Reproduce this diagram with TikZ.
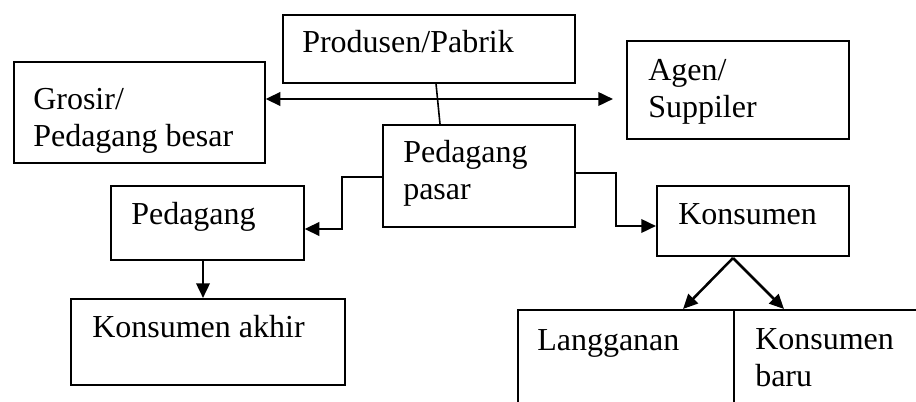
\documentclass[tikz,border=0pt]{standalone}
\usepackage{fontspec}
\setmainfont{Liberation Serif}
\usetikzlibrary{arrows.meta,calc}
\begin{document}
\begin{tikzpicture}[x=0.75pt,y=-0.75pt,
  box/.style={draw=black,line width=1.2pt,rectangle,inner sep=0pt,anchor=north west},
  txt/.style={inner sep=0pt,anchor=base west,align=left,font=\fontsize{24}{27.75}\selectfont},
  tip/.style={Triangle[length=11pt,width=10pt]},
  conn/.style={line width=1.9pt,-{Triangle[length=11pt,width=10pt]}},
  plain/.style={line width=1.9pt}]
\useasboundingbox (0,0) rectangle (916,402);
\clip (0,0) rectangle (916,402);
% boxes
\node[box,minimum width=219pt,minimum height=51pt] (prod) at (282,14) {};
\node[box,minimum width=188.25pt,minimum height=75.75pt] (grosir) at (13,61) {};
\node[box,minimum width=166.5pt,minimum height=73.5pt] (agen) at (626,40) {};
\node[box,minimum width=144pt,minimum height=76.5pt] (pasar) at (382,124) {};
\node[box,minimum width=144.75pt,minimum height=55.5pt] (ped) at (110,185) {};
\node[box,minimum width=205.5pt,minimum height=64.5pt] (akhir) at (70,298) {};
\node[box,minimum width=144pt,minimum height=52.5pt] (kons) at (656,185) {};
\node[box,minimum width=162pt,minimum height=90pt] (lang) at (517,309) {};
\node[box,minimum width=180pt,minimum height=90pt] (baru) at (733,309) {};
% texts (multi-line nodes: base = last line)
\node[txt] (tprod) at (302,53) {Produsen/Pabrik};
\node[txt] (tgrosir) at (33,147) {Grosir/\\Pedagang besar};
\node[txt] (tagen) at (648,118) {Agen/\\Suppiler};
\node[txt] (tpasar) at (403,200) {Pedagang\\pasar};
\node[txt] (tped) at (131,225) {Pedagang};
\node[txt] (takhir) at (92,337) {Konsumen akhir};
\node[txt] (tkons) at (678,225) {Konsumen};
\node[txt] (tlang) at (537,350) {Langganan};
\node[txt] (tbaru) at (755,386) {Konsumen\\baru};
% connectors
\coordinate (hr) at (613,99);
\draw[plain,{Triangle[length=11pt,width=10pt]}-{Triangle[length=11pt,width=10pt]}] (grosir.east |- hr) -- (hr);
\draw[line width=1.2pt] (prod.south -| 436,0) -- (pasar.north -| 440,0);
\draw[conn] (pasar.west |- 0,177) -| (342,229) -- (ped.east |- 0,229);
\draw[conn] (pasar.east |- 0,173) -| (616,226) -- (kons.west |- 0,226);
\draw[conn] (ped.south -| 203,0) -- (akhir.north -| 203,0);
\coordinate (ks) at (733,258);
\draw[conn] (ks) -- (lang.north -| 683,0);
\draw[conn] (ks) -- (baru.north -| 784,0);
\end{tikzpicture}
\end{document}
